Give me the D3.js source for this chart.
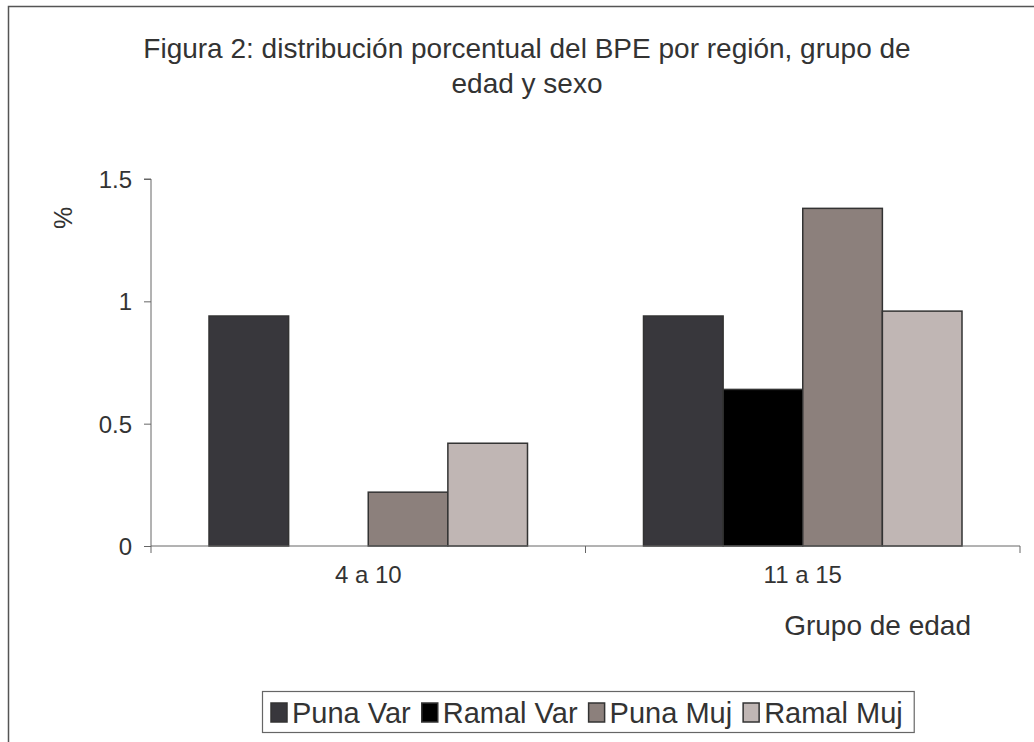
<!DOCTYPE html>
<html><head><meta charset="utf-8">
<script src="https://cdn.jsdelivr.net/npm/d3@7"></script>
<style>body{margin:0;background:#fff;} svg{display:block;font-family:"Liberation Sans",Arial,sans-serif;}</style>
</head><body>
<svg id="c" width="1034" height="742"></svg>
<script>
const categories = ["4 a 10", "11 a 15"];
const seriesNames = ["Puna Var", "Ramal Var", "Puna Muj", "Ramal Muj"];
const punaVar = [0.94, 0.94];
const ramalVar = [0, 0.64];
const punaMuj = [0.22, 1.38];
const ramalMuj = [0.42, 0.96];
const yTicks = [0, 0.5, 1, 1.5];
const colors = ["#38373c", "#000000", "#8c807c", "#c0b6b4"];

const seriesValues = [punaVar, ramalVar, punaMuj, ramalMuj];
const svg = d3.select("#c");
const txt = "#333";
const FF = "Liberation Sans, Arial, sans-serif";

// outer border
svg.append("rect").attr("x", 8.5).attr("y", 6.5).attr("width", 1040).attr("height", 760)
  .attr("fill", "none").attr("stroke", "#555").attr("stroke-width", 1.5);

const L = 151, R = 1020, T = 179, B = 546;
const x0 = d3.scaleBand().domain(categories).range([L, R]).paddingInner(0).paddingOuter(0);
const x1 = d3.scaleBand().domain(seriesNames).range([58, x0.bandwidth() - 58]);
const y = d3.scaleLinear().domain([0, 1.5]).range([B, T]);

// title
const title = svg.append("text").attr("text-anchor", "middle").attr("fill", txt).attr("font-size", 28);
title.append("tspan").attr("x", 527).attr("y", 58).text("Figura 2: distribución porcentual del BPE por región, grupo de");
title.append("tspan").attr("x", 527).attr("y", 93).text("edad y sexo");

// bars
const data = [];
categories.forEach((c, i) => seriesNames.forEach((s, j) => data.push({c, s, v: seriesValues[j][i], j})));
svg.append("g").selectAll("rect").data(data.filter(d => d.v > 0)).join("rect")
  .attr("x", d => x0(d.c) + x1(d.s))
  .attr("y", d => y(d.v))
  .attr("width", x1.bandwidth())
  .attr("height", d => y(0) - y(d.v))
  .attr("fill", d => colors[d.j])
  .attr("stroke", "#333").attr("stroke-width", 1.5);

// y axis
const ya = svg.append("g").attr("transform", `translate(${L},0)`)
  .call(d3.axisLeft(y).tickValues(yTicks).tickSize(7).tickPadding(12).tickFormat(d3.format("")));
ya.select(".domain").attr("stroke", "#666").attr("d", `M-7,${T}H0V${B}`);
ya.selectAll(".tick line").attr("stroke", "#666");
ya.selectAll(".tick text").attr("font-size", 24).attr("fill", txt).attr("font-family", FF).attr("dy", "0.36em");

// x axis
const xa = svg.append("g").attr("transform", `translate(0,${B})`)
  .call(d3.axisBottom(x0).tickSize(0).tickPadding(20));
xa.select(".domain").attr("stroke", "#666").attr("d", `M${L},0H${R}`);
xa.selectAll(".tick text").attr("font-size", 24).attr("fill", txt).attr("font-family", FF);
[L, (L + R) / 2, R].forEach(px => svg.append("line").attr("x1", px).attr("x2", px).attr("y1", B).attr("y2", B + 7).attr("stroke", "#666"));

// axis titles
svg.append("text").attr("transform", "translate(72,218) rotate(-90)").attr("text-anchor", "middle")
  .attr("font-size", 25).attr("fill", txt).text("%");
svg.append("text").attr("x", 971).attr("y", 635).attr("text-anchor", "end")
  .attr("font-size", 28).attr("fill", txt).text("Grupo de edad");

// legend
const lg = svg.append("g");
const box = lg.append("rect").attr("fill", "#fff").attr("stroke", "#666").attr("stroke-width", 1.2);
let cx = 271;
seriesNames.forEach((s, i) => {
  lg.append("rect").attr("x", cx).attr("y", 703).attr("width", 16).attr("height", 19)
    .attr("fill", colors[i]).attr("stroke", "#333").attr("stroke-width", 1.5);
  const t = lg.append("text").attr("x", cx + 21).attr("y", 723).attr("font-size", 29).attr("fill", txt).text(s);
  cx += 21 + t.node().getComputedTextLength() + 11;
});
box.attr("x", 262.5).attr("y", 691.5).attr("width", cx - 262).attr("height", 41);
</script>
</body></html>
